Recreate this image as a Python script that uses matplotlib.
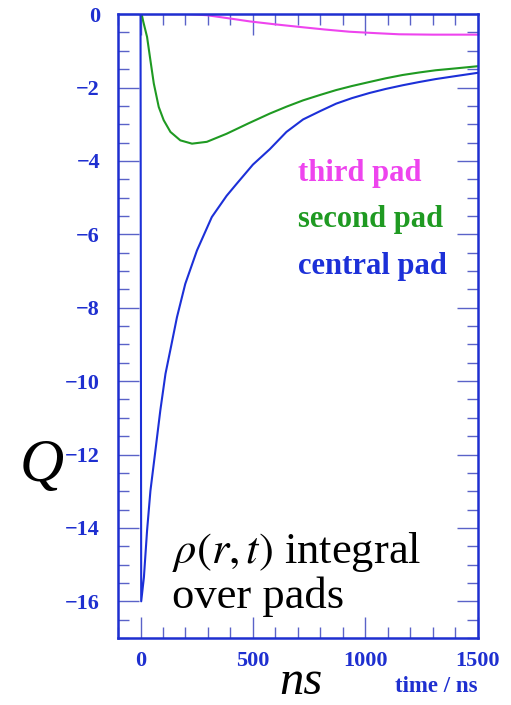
import matplotlib
matplotlib.use("Agg")
import matplotlib.pyplot as plt
from matplotlib.ticker import MultipleLocator

plt.rcParams['font.family'] = ['Liberation Serif', 'DejaVu Serif']
plt.rcParams['mathtext.fontset'] = 'stix'

# integrated induced charge on each pad vs. time
t_central = [0, 3, 15, 29, 44, 66, 88, 111, 136, 162, 199, 251, 317, 383, 428, 500,
             575, 649, 723, 800, 870, 940, 1018, 1090, 1165, 1240, 1313, 1400, 1500]
q_central = [0, -16.0, -15.35, -14.08, -12.99, -11.9, -10.8, -9.8, -9.05, -8.26, -7.35,
             -6.44, -5.53, -4.95, -4.62, -4.1, -3.68, -3.21, -2.87, -2.64, -2.44, -2.29,
             -2.15, -2.04, -1.94, -1.85, -1.77, -1.69, -1.6]

t_second = [0, 5, 12, 29, 44, 59, 81, 103, 133, 177, 229, 295, 383, 479, 575, 650,
            723, 800, 870, 940, 1018, 1090, 1165, 1240, 1313, 1400, 1500]
q_second = [0, 0, -0.2, -0.62, -1.26, -1.89, -2.53, -2.89, -3.21, -3.44, -3.53, -3.48,
            -3.26, -2.98, -2.71, -2.52, -2.35, -2.2, -2.07, -1.96, -1.85, -1.75, -1.66,
            -1.59, -1.53, -1.48, -1.42]

t_third = [0, 206, 295, 398, 487, 600, 708, 820, 929, 1050, 1150, 1300, 1500]
q_third = [0, 0, -0.03, -0.12, -0.2, -0.28, -0.35, -0.42, -0.48, -0.52, -0.55, -0.56, -0.56]

pad_names = ['third pad', 'second pad', 'central pad']

axis_blue = '#1e2fd0'
tick_blue = '#5a62c8'
c_central = '#1c30d8'
c_second = '#1f9a22'
c_third = '#ee44ee'

fig = plt.figure(figsize=(5.11, 7.05), dpi=100)
ax = fig.add_axes([0.231, 0.095, 0.704, 0.885])

ax.plot(t_third, q_third, color=c_third, lw=1.5)
ax.plot(t_second, q_second, color=c_second, lw=1.5)
ax.plot(t_central, q_central, color=c_central, lw=1.5)

ax.set_xlim(-100, 1500)
ax.set_ylim(-17, 0)

ax.xaxis.set_major_locator(MultipleLocator(500))
ax.xaxis.set_minor_locator(MultipleLocator(100))
ax.yaxis.set_major_locator(MultipleLocator(2))
ax.yaxis.set_minor_locator(MultipleLocator(0.5))

for s in ax.spines.values():
    s.set_color(axis_blue)
    s.set_linewidth(1.8)

ax.tick_params(which='both', direction='in', top=True, right=True,
               color=tick_blue, width=1.0, labelcolor=axis_blue)
ax.tick_params(which='major', length=15)
ax.tick_params(which='minor', length=8)
ax.tick_params(axis='y', which='major', pad=13)
ax.tick_params(axis='x', which='major', pad=9)
for lab in ax.get_xticklabels() + ax.get_yticklabels():
    lab.set_fontsize(16)
    lab.set_fontweight('bold')

# legend-style labels
for i, (name, col) in enumerate(zip(pad_names, [c_third, c_second, c_central])):
    ax.text(0.5, 0.745 - i * 0.075, name, transform=ax.transAxes, color=col,
            fontsize=22, fontweight='bold', ha='left', va='center')

ax.text(0.15, 0.12, r'$\rho(r,t)$ integral', transform=ax.transAxes,
        fontsize=32, color='black', ha='left', va='baseline')
ax.text(0.15, 0.048, 'over pads', transform=ax.transAxes,
        fontsize=32, color='black', ha='left', va='baseline')

fig.text(0.082, 0.338, 'Q', fontsize=44, style='italic', ha='center', va='center')
fig.text(0.588, 0.001, 'ns', fontsize=35, style='italic', ha='center', va='bottom')
fig.text(0.935, 0.026, 'time / ns', fontsize=16.5, fontweight='bold', color=axis_blue,
         ha='right', va='center')

fig.savefig('out.png', dpi=100)
